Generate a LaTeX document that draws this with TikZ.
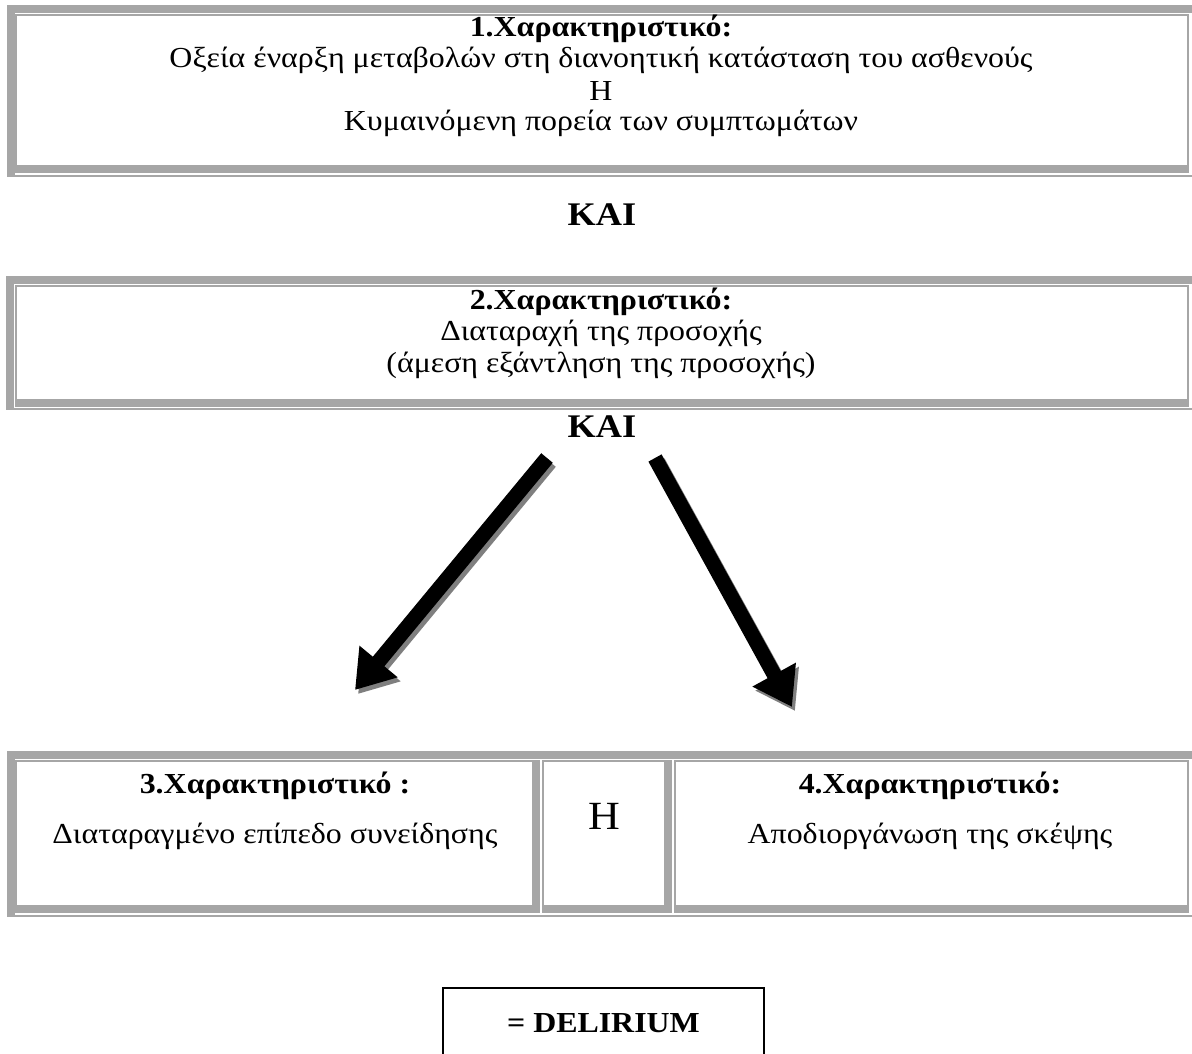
\documentclass[tikz,border=0pt]{standalone}
\usepackage{fontspec}
\setmainfont[FakeStretch=1.1]{Liberation Serif}
\usetikzlibrary{arrows.meta}
\definecolor{framegray}{HTML}{A6A6A6}
\definecolor{shadowgray}{HTML}{7F7F7F}
\tikzset{band/.style={fill=framegray},
  txt/.style={inner sep=0pt,font=\fontsize{29}{33}\selectfont},
  ttl/.style={txt,font=\fontsize{29}{33}\selectfont\bfseries},
  bigarrow/.style={line width=15pt,-{Triangle[length=37pt,width=47pt]}}}
\newcommand{\tblframe}[4]{\fill[band] (#1,#2) rectangle (#3,#2+8);
  \fill[band] (#1,#2) rectangle (#1+8,#4); \fill[band] (#1+8,#4-2) rectangle (#3,#4);}
\newcommand{\tblcell}[5]{\fill[band] (#1,#2) rectangle (#3,#2+2);
  \fill[band] (#1,#2) rectangle (#1+2,#4); \fill[band] (#1,#4-8) rectangle (#3,#4);
  \fill[band] (#3-#5,#2) rectangle (#3,#4);}
\begin{document}
\begin{tikzpicture}[x=1pt,y=-1pt]
  \useasboundingbox (0,0) rectangle (1192,1053);
  \tblframe{7}{5}{1200}{177} \tblcell{15}{14}{1189}{173}{2}
  \tblframe{6}{276}{1200}{410} \tblcell{15}{285}{1189}{407}{2}
  \tblframe{7}{751}{1200}{917} \tblcell{15}{760}{540}{913}{8}
  \tblcell{542}{760}{672}{913}{8} \tblcell{674}{760}{1189}{913}{2}
  \node[ttl] (t1) at (601,29) {1.Χαρακτηριστικό:};
  \node[txt] (t1a) at (601,60) {Οξεία έναρξη μεταβολών στη διανοητική κατάσταση του ασθενούς};
  \node[txt] (t1or) at (601,91) {Η};
  \node[txt] (t1b) at (601,123) {Κυμαινόμενη πορεία των συμπτωμάτων};
  \node[font=\fontsize{33}{38}\selectfont\bfseries] (and1) at (602,215) {ΚΑΙ};
  \node[ttl] (t2) at (601,302) {2.Χαρακτηριστικό:};
  \node[txt] (t2a) at (601,333) {Διαταραχή της προσοχής};
  \node[txt] (t2b) at (601,365) {(άμεση εξάντληση της προσοχής)};
  \node[font=\fontsize{33}{38}\selectfont\bfseries] (and2) at (602,427) {ΚΑΙ};
  \node[ttl] (t3) at (275,786) {3.Χαρακτηριστικό :};
  \node[txt] (t3a) at (275,836) {Διαταραγμένο επίπεδο συνείδησης};
  \node[font=\fontsize{40}{46}\selectfont] (or) at (604,816) {Η};
  \node[ttl] (t4) at (930,786) {4.Χαρακτηριστικό:};
  \node[txt] (t4a) at (930,836) {Αποδιοργάνωση της σκέψης};
  \coordinate (l0) at (547,458); \coordinate (l1) at (355,690);
  \coordinate (r0) at (655,458); \coordinate (r1) at (792,707);
  \draw[bigarrow,shadowgray,transform canvas={xshift=3pt,yshift=-4pt}] (l0) -- (l1);
  \draw[bigarrow,shadowgray,transform canvas={xshift=3pt,yshift=-4pt}] (r0) -- (r1);
  \draw[bigarrow] (l0) -- (l1); \draw[bigarrow] (r0) -- (r1);
  \node[draw,line width=2pt,minimum width=321pt,minimum height=70pt,anchor=north,
    font=\fontsize{29}{33}\selectfont\bfseries] (res) at (603.5,987) {= DELIRIUM};
\end{tikzpicture}
\end{document}
